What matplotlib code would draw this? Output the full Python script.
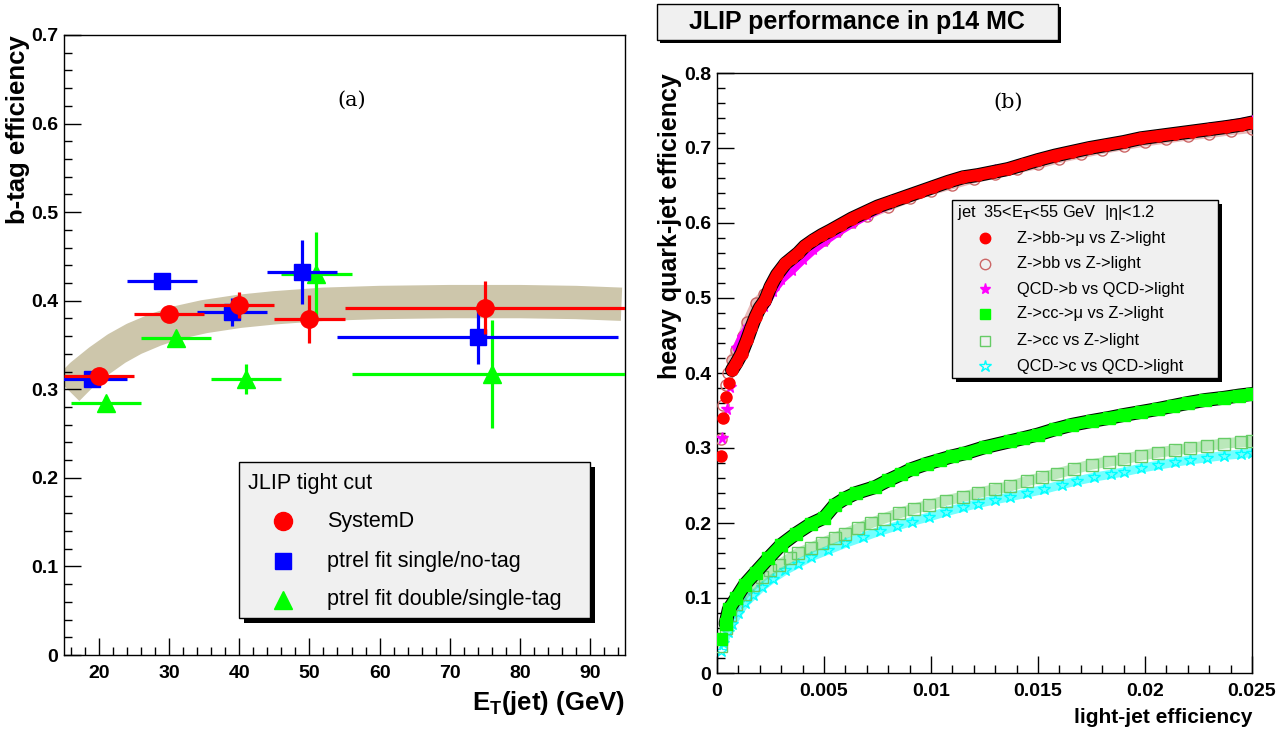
import numpy as np
import matplotlib
matplotlib.use("Agg")
import matplotlib.pyplot as plt
from matplotlib.patches import Rectangle
from matplotlib.lines import Line2D
from matplotlib.ticker import MultipleLocator, FuncFormatter

plt.rcParams['font.family'] = ['Liberation Sans', 'DejaVu Sans']
plt.rcParams['font.weight'] = 'bold'
plt.rcParams['axes.labelweight'] = 'bold'
plt.rcParams['mathtext.fontset'] = 'custom'
plt.rcParams['mathtext.rm'] = 'Liberation Sans'
plt.rcParams['mathtext.bf'] = 'Liberation Sans:bold'

# ---- panel (a): b-tag efficiency vs jet ET ----
sysd_x = [20, 30, 40, 50, 75]
sysd_y = [0.315, 0.385, 0.395, 0.379, 0.392]
sysd_xerr = [5, 5, 5, 5, 20]
sysd_yerr = [0.008, 0.008, 0.015, 0.027, 0.030]

single_x = [19, 29, 39, 49, 74]
single_y = [0.312, 0.422, 0.387, 0.432, 0.359]
single_xerr = [5, 5, 5, 5, 20]
single_yerr = [0.008, 0.008, 0.016, 0.036, 0.031]

double_x = [21, 31, 41, 51, 76]
double_y = [0.284, 0.358, 0.312, 0.430, 0.317]
double_xerr = [5, 5, 5, 5, 20]
double_yerr = [0.008, 0.008, 0.017, 0.048, 0.061]

# fitted band (centre line)
band_x = [15.5, 17.5, 20, 22.5, 25, 28, 31, 35, 40, 45, 52, 60, 70, 80, 88, 94.5]
band_y = [0.300, 0.316, 0.332, 0.346, 0.357, 0.367, 0.375, 0.382, 0.388, 0.392,
          0.396, 0.398, 0.399, 0.399, 0.398, 0.396]

# ---- panel (b): heavy quark-jet efficiency vs light-jet efficiency ----
bbmu_x = [0.0002, 0.0003, 0.0004, 0.00055, 0.0007, 0.0009, 0.00115, 0.0014, 0.0016, 0.0018,
          0.002, 0.00225, 0.0025, 0.0028, 0.0032, 0.0035, 0.0038, 0.0041, 0.0045, 0.0049,
          0.0053, 0.0058, 0.0063, 0.0069, 0.0075, 0.0082, 0.0088, 0.0095, 0.0101, 0.0108,
          0.0115, 0.0122, 0.0129, 0.0136, 0.0143, 0.015, 0.0158, 0.0166, 0.0174, 0.0182,
          0.019, 0.0198, 0.0206, 0.0214, 0.0222, 0.023, 0.0238, 0.0245, 0.025]
bbmu_y = [0.289, 0.340, 0.368, 0.387, 0.404, 0.413, 0.426, 0.444, 0.460, 0.475,
          0.487, 0.497, 0.515, 0.531, 0.546, 0.553, 0.560, 0.569, 0.577, 0.584,
          0.590, 0.598, 0.606, 0.614, 0.622, 0.629, 0.635, 0.642, 0.648, 0.655,
          0.661, 0.664, 0.668, 0.672, 0.678, 0.684, 0.690, 0.695, 0.700, 0.704,
          0.708, 0.713, 0.716, 0.719, 0.722, 0.725, 0.728, 0.731, 0.734]

bb_x = [0.0002, 0.0003, 0.0004, 0.0005, 0.0007, 0.0009, 0.0012, 0.0014, 0.0018, 0.0022,
        0.0026, 0.003, 0.0035, 0.004, 0.0045, 0.005, 0.0056, 0.0063, 0.007, 0.008,
        0.009, 0.01, 0.011, 0.012, 0.013, 0.014, 0.015, 0.016, 0.017, 0.018,
        0.019, 0.02, 0.021, 0.022, 0.023, 0.024, 0.025]
bb_y = [0.312, 0.357, 0.384, 0.400, 0.417, 0.431, 0.450, 0.468, 0.493, 0.505,
        0.520, 0.535, 0.548, 0.560, 0.570, 0.578, 0.590, 0.601, 0.610, 0.622,
        0.633, 0.643, 0.651, 0.659, 0.665, 0.672, 0.678, 0.686, 0.692, 0.698,
        0.703, 0.708, 0.712, 0.716, 0.719, 0.723, 0.726]

qcdb_x = [0.00025, 0.00045, 0.0006, 0.0008, 0.00095, 0.0012, 0.0015, 0.0018, 0.0022, 0.0026,
          0.003, 0.0035, 0.004, 0.0045, 0.005, 0.0056, 0.0063, 0.007, 0.008, 0.009,
          0.01, 0.011, 0.012, 0.013, 0.014, 0.015, 0.016, 0.017, 0.018, 0.019,
          0.02, 0.021, 0.022, 0.023, 0.024, 0.025]
qcdb_y = [0.313, 0.352, 0.382, 0.410, 0.433, 0.448, 0.462, 0.475, 0.490, 0.510,
          0.525, 0.538, 0.552, 0.565, 0.576, 0.588, 0.600, 0.611, 0.625, 0.637,
          0.648, 0.657, 0.664, 0.670, 0.677, 0.684, 0.691, 0.697, 0.703, 0.708,
          0.714, 0.718, 0.722, 0.727, 0.731, 0.736]

ccmu_x = [0.0002, 0.0004, 0.00055, 0.0009, 0.0013, 0.0018, 0.0024, 0.003, 0.0037, 0.0044,
          0.005, 0.0055, 0.006, 0.0065, 0.0074, 0.008, 0.0086, 0.0091, 0.0098, 0.0104,
          0.011, 0.0116, 0.0125, 0.0137, 0.0143, 0.015, 0.0158, 0.0166, 0.0175, 0.0183,
          0.019, 0.0198, 0.0206, 0.0213, 0.022, 0.0228, 0.0237, 0.0244, 0.025]
ccmu_y = [0.045, 0.066, 0.085, 0.100, 0.118, 0.134, 0.153, 0.171, 0.186, 0.199,
          0.207, 0.224, 0.233, 0.240, 0.248, 0.257, 0.265, 0.272, 0.279, 0.284,
          0.289, 0.293, 0.301, 0.309, 0.313, 0.318, 0.325, 0.331, 0.336, 0.340,
          0.344, 0.348, 0.352, 0.356, 0.360, 0.364, 0.367, 0.370, 0.372]

cc_x = [0.0002, 0.0004, 0.0006, 0.0009, 0.0013, 0.0017, 0.0021, 0.0025, 0.0029, 0.0034,
        0.0038, 0.0044, 0.0049, 0.0055, 0.006, 0.0066, 0.0072, 0.0078, 0.0085, 0.0092,
        0.0099, 0.0107, 0.0115, 0.0122, 0.013, 0.0137, 0.0145, 0.0152, 0.0159, 0.0167,
        0.0175, 0.0183, 0.019, 0.0198, 0.0206, 0.0214, 0.0221, 0.0229, 0.0237, 0.0245, 0.025]
cc_y = [0.036, 0.060, 0.077, 0.092, 0.106, 0.118, 0.128, 0.137, 0.144, 0.153,
        0.160, 0.167, 0.173, 0.180, 0.186, 0.193, 0.200, 0.206, 0.213, 0.219,
        0.224, 0.230, 0.235, 0.240, 0.245, 0.249, 0.256, 0.261, 0.266, 0.272,
        0.278, 0.282, 0.285, 0.290, 0.294, 0.297, 0.300, 0.303, 0.306, 0.308, 0.309]

qcdc_x = [0.0002, 0.0003, 0.0005, 0.0007, 0.001, 0.0013, 0.0017, 0.0021, 0.0026, 0.0032,
          0.0038, 0.0044, 0.0052, 0.006, 0.0068, 0.0076, 0.0084, 0.0091, 0.0099, 0.0107,
          0.0115, 0.0122, 0.013, 0.0137, 0.0145, 0.0153, 0.0161, 0.0168, 0.0176, 0.0184,
          0.019, 0.0198, 0.0206, 0.0214, 0.0221, 0.0229, 0.0237, 0.0245, 0.025]
qcdc_y = [0.030, 0.040, 0.055, 0.066, 0.080, 0.093, 0.104, 0.115, 0.126, 0.137,
          0.146, 0.155, 0.164, 0.173, 0.181, 0.189, 0.196, 0.202, 0.208, 0.215,
          0.221, 0.226, 0.231, 0.235, 0.240, 0.245, 0.251, 0.256, 0.261, 0.265,
          0.268, 0.273, 0.277, 0.281, 0.284, 0.287, 0.290, 0.292, 0.294]

W, H = 1283, 732
fig = plt.figure(figsize=(W / 100, H / 100), dpi=100)
fig.patch.set_facecolor('white')


def fx(px):
    return px / W


def fy(py):
    return 1 - py / H


def root_fmt(v, pos):
    return '0' if abs(v) < 1e-12 else f'{v:g}'


def style_axis(ax, xmaj, xmin, ymaj, ymin, lsize):
    ax.xaxis.set_major_locator(MultipleLocator(xmaj))
    ax.xaxis.set_minor_locator(MultipleLocator(xmin))
    ax.yaxis.set_major_locator(MultipleLocator(ymaj))
    ax.yaxis.set_minor_locator(MultipleLocator(ymin))
    ax.xaxis.set_major_formatter(FuncFormatter(root_fmt))
    ax.yaxis.set_major_formatter(FuncFormatter(root_fmt))
    ax.tick_params(which='both', direction='in', top=False, right=False, width=1.0)
    ax.tick_params(which='major', length=12, labelsize=lsize)
    ax.tick_params(which='minor', length=6)
    ax.tick_params(axis='x', pad=7)
    ax.tick_params(axis='y', pad=4)
    for s in ax.spines.values():
        s.set_linewidth(1.0)


def draw_box(x0, y0, x1, y1, shadow):
    fig.add_artist(Rectangle((fx(x0 + shadow), fy(y1 + shadow)), fx(x1 - x0), (y1 - y0) / H,
                             transform=fig.transFigure, facecolor='black', edgecolor='none',
                             zorder=20))
    fig.add_artist(Rectangle((fx(x0), fy(y1)), fx(x1 - x0), (y1 - y0) / H,
                             transform=fig.transFigure, facecolor='#f0f0f0', edgecolor='black',
                             linewidth=1.0, zorder=21))


# ------------------ left panel ------------------
axL = fig.add_axes([fx(64), fy(655), fx(561), 620 / H])
axL.set_xlim(15, 95)
axL.set_ylim(0, 0.7)
style_axis(axL, 10, 2, 0.1, 0.02, 14)

axL.plot(band_x, band_y, color='#cdc6ab', lw=24, solid_capstyle='butt',
         solid_joinstyle='round', zorder=1)

axL.errorbar(double_x, double_y, xerr=double_xerr, yerr=double_yerr, fmt='^', color='#00ff00',
             ms=12.5, elinewidth=2.3, capsize=0, zorder=3)
axL.errorbar(single_x, single_y, xerr=single_xerr, yerr=single_yerr, fmt='s', color='#0000ff',
             ms=11.5, elinewidth=2.3, capsize=0, zorder=4)
axL.errorbar(sysd_x, sysd_y, xerr=sysd_xerr, yerr=sysd_yerr, fmt='o', color='#ff0000',
             ms=12.5, elinewidth=2.3, capsize=0, zorder=5)

axL.text(0.513, 0.895, '(a)', transform=axL.transAxes, ha='center', va='center',
         fontsize=15, fontweight='normal', family='DejaVu Serif')

axL.set_ylabel('b-tag efficiency', fontsize=18.5, fontweight='bold', loc='top')
axL.yaxis.set_label_coords(-0.061, 1.0)
axL.set_xlabel(r'E$_\mathbf{T}$(jet) (GeV)', fontsize=18.5, fontweight='bold', loc='right')
axL.xaxis.set_label_coords(1.0, -0.055)

# left legend
draw_box(239, 462, 590, 618, 5)
fig.text(fx(248), fy(483), 'JLIP tight cut', fontsize=15.5, fontweight='normal',
         va='center', ha='left', zorder=22)
leg_l = [('o', '#ff0000', 13, 'SystemD', 521),
         ('s', '#0000ff', 12, 'ptrel fit single/no-tag', 561),
         ('^', '#00ff00', 13, 'ptrel fit double/single-tag', 600)]
for mk, col, ms, lab, py in leg_l:
    fig.add_artist(Line2D([fx(283)], [fy(py)], marker=mk, color=col, ms=ms, ls='none',
                          transform=fig.transFigure, zorder=22))
    fig.text(fx(327), fy(py), lab, fontsize=15.5, fontweight='normal', va='center',
             ha='left', zorder=22)

# ------------------ right panel ------------------
axR = fig.add_axes([fx(717), fy(673), fx(535), 600 / H])
axR.set_xlim(0, 0.025)
axR.set_ylim(0, 0.8)
style_axis(axR, 0.005, 0.001, 0.1, 0.02, 14)


def curve(x, y, color, marker, ms, filled, start=0, under=None, band=7.0, alpha=1.0, z=2):
    # dense ROOT-style marker band: black error bars beneath, thick line + markers on top
    if under:
        axR.plot(x[start:], y[start:], color='black', lw=under, solid_capstyle='round', zorder=z)
    axR.plot(x[start:], y[start:], color=color, lw=band, alpha=alpha,
             solid_capstyle='round', zorder=z + 0.1)
    axR.plot(x, y, ls='none', marker=marker, ms=ms, mfc=color if filled else 'none',
             mec=color, mew=1.0, zorder=z + 0.2)


curve(qcdc_x, qcdc_y, '#00ffff', '*', 9, False, start=1, band=6.5, alpha=0.55, z=2)
curve(cc_x, cc_y, '#66cc66', 's', 8, False, start=1, band=7.5, alpha=0.45, z=3)
curve(ccmu_x, ccmu_y, '#00ff00', 's', 8, True, start=1, under=10, band=8.5, z=4)
curve(bb_x, bb_y, '#cc6666', 'o', 8, False, start=4, band=6.5, alpha=0.45, z=5)
curve(qcdb_x, qcdb_y, '#ff00ff', '*', 8.5, True, start=4, band=7, z=6)
curve(bbmu_x, bbmu_y, '#ff0000', 'o', 8, True, start=4, under=10, band=8.5, z=7)

axR.text(0.544, 0.952, '(b)', transform=axR.transAxes, ha='center', va='center',
         fontsize=15, fontweight='normal', family='DejaVu Serif')

axR.set_ylabel('heavy quark-jet efficiency', fontsize=18, fontweight='bold', loc='top')
axR.yaxis.set_label_coords(-0.065, 1.0)
axR.set_xlabel('light-jet efficiency', fontsize=15, fontweight='bold', loc='right')
axR.xaxis.set_label_coords(1.0, -0.058)

# right legend
draw_box(952, 200, 1218, 378, 4)
fig.text(fx(957), fy(212), r'jet  35<E$_\mathrm{T}$<55 GeV  |η|<1.2', fontsize=11.8,
         fontweight='normal', va='center', ha='left', zorder=22)
leg_r = [('o', '#ff0000', True, 7.5, 'Z->bb->μ vs Z->light', 238),
         ('o', '#cc6666', False, 7.5, 'Z->bb vs Z->light', 264),
         ('*', '#ff00ff', True, 8, 'QCD->b vs QCD->light', 289),
         ('s', '#00ff00', True, 7, 'Z->cc->μ vs Z->light', 314),
         ('s', '#66cc66', False, 7, 'Z->cc vs Z->light', 341),
         ('*', '#00ffff', False, 9, 'QCD->c vs QCD->light', 366)]
for mk, col, filled, ms, lab, py in leg_r:
    fig.add_artist(Line2D([fx(985)], [fy(py)], marker=mk, ms=ms, ls='none',
                          mfc=col if filled else 'none', mec=col, mew=1.0,
                          transform=fig.transFigure, zorder=22))
    fig.text(fx(1017), fy(py), lab, fontsize=11.8, fontweight='normal', va='center',
             ha='left', zorder=22)

# title box
draw_box(657, 4, 1058, 40, 3)
fig.text(fx(857), fy(22), 'JLIP performance in p14 MC', fontsize=18, fontweight='bold',
         ha='center', va='center', zorder=22)

fig.savefig('out.png', dpi=100, facecolor='white')
